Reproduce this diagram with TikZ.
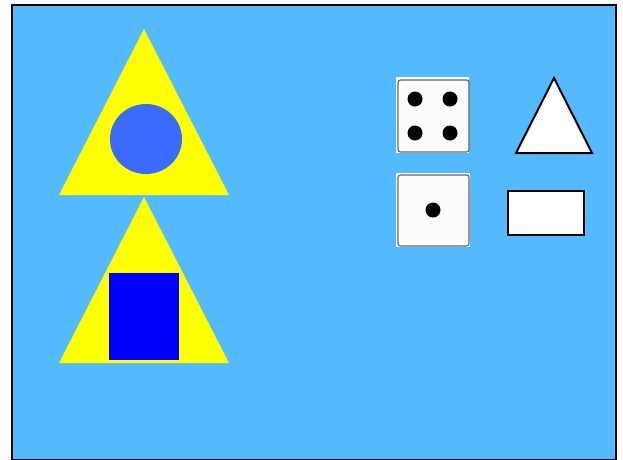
\documentclass[tikz,border=0pt]{standalone}
\begin{document}
\begin{tikzpicture}[x=1pt,y=-1pt,
  yel/.style={fill=yellow,draw=none},
  diebg/.style={fill=white,draw=none},
  diebox/.style={fill=white!99!black,draw=gray!80!black,line width=1.2pt,rounded corners=2.5pt},
  pip/.style={fill=black,draw=none},
  outl/.style={fill=white,draw=black,line width=2pt}]
\definecolor{bgblue}{RGB}{83,186,254}
\definecolor{circblue}{RGB}{59,106,255}
\definecolor{yelc}{RGB}{255,255,0}
\useasboundingbox (0,0) rectangle (623,459);
\fill[white] (0,0) rectangle (623,459);
\draw[fill=bgblue,draw=black,line width=2.5pt] (12,5) rectangle (616,460);
% left shapes
\fill[yelc] (144,29) -- (229,195) -- (59,195) -- cycle;
\fill[circblue] (146,139) ellipse [x radius=36, y radius=35];
\fill[yelc] (144,197) -- (229,363) -- (59,363) -- cycle;
\fill[blue] (109,273) rectangle (179,360);
% die four
\fill[diebg] (396,77) rectangle (469,153);
\draw[diebox] (398,80) rectangle (469,152);
\foreach \px/\py in {415/99,450/99,415/133,450/133} \fill[pip] (\px,\py) circle (7.5);
% die one
\fill[diebg] (396,173) rectangle (470,247);
\draw[diebox] (398,175) rectangle (469,246);
\fill[pip] (433,210) circle (7.5);
% outline shapes
\draw[outl] (554,78) -- (592,153) -- (516,153) -- cycle;
\draw[outl] (508,191) rectangle (584,235);
\end{tikzpicture}
\end{document}
